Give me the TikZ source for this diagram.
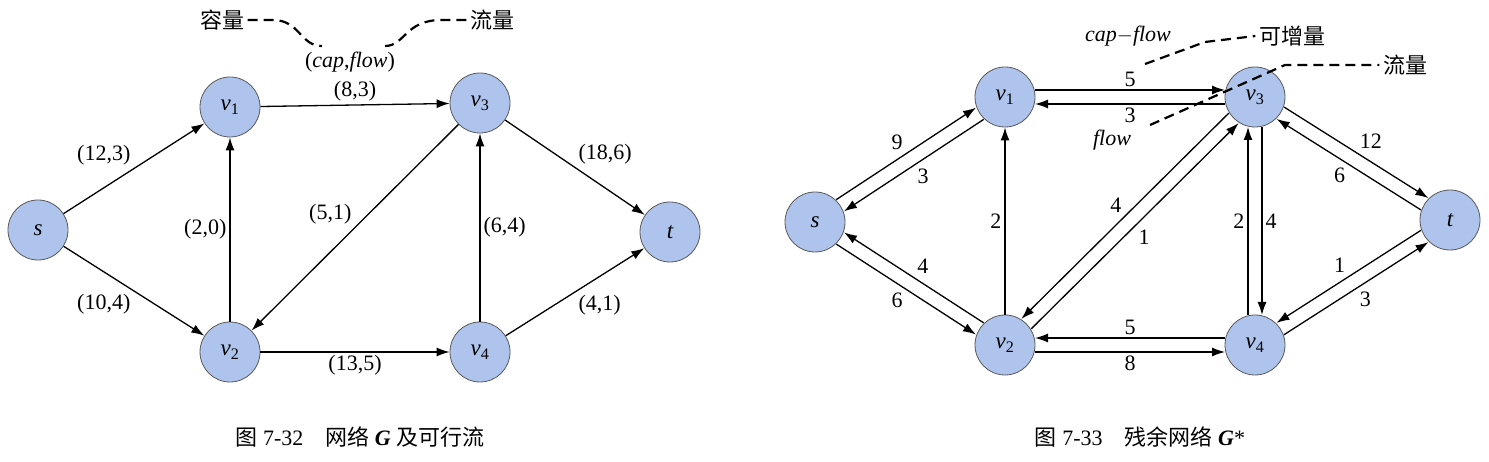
\documentclass[tikz,border=0pt]{standalone}
\usepackage{fontspec}
\setmainfont{Liberation Serif}
\newfontfamily\cjk{Noto Sans CJK SC}
\usetikzlibrary{calc,arrows.meta}

\definecolor{vfill}{RGB}{174,196,236}
\tikzset{every picture/.style={line width=1.3pt}}
\tikzset{
  vtx/.style={circle,draw=gray!70!black,line width=0.8pt,fill=vfill,minimum size=60pt,inner sep=0pt,font=\fontsize{23}{26}\selectfont\itshape},
  arr/.style={-{Latex[length=13pt,width=9pt]}},
  lab/.style={font=\fontsize{22}{26}\selectfont,inner sep=3pt},
  note/.style={dash pattern=on 10pt off 6pt,line width=2.2pt},
}
% residual edge: from, to, side offset, label options, label
\newcommand\redge[5]{%
  \draw[arr] ($(#1)!30pt!(#2)!#3!90:(#2)$) -- node[lab,#4] {#5} ($(#2)!30pt!(#1)!#3!-90:(#1)$);}

\begin{document}
\begin{tikzpicture}[x=1pt,y=1pt,yscale=-1,xscale=1]
\useasboundingbox (0,0) rectangle (1489,462);

% network G
\draw (38,230) node [vtx] (s) {s};
\draw (230,107) node [vtx] (v1) {v\textsubscript{\upshape 1}};
\draw (480,103) node [vtx] (v3) {v\textsubscript{\upshape 3}};
\draw (670,232) node [vtx] (t) {t};
\draw (230,352) node [vtx] (v2) {v\textsubscript{\upshape 2}};
\draw (480,352) node [vtx] (v4) {v\textsubscript{\upshape 4}};

\draw [arr] (s) -- node [lab,above left] {(12,3)} (v1);
\draw [arr] (s) -- node [lab,below left] {(10,4)} (v2);
\draw [arr] (v2) -- node [lab,left] {(2,0)} (v1);
\draw [arr] (v1) -- node [lab,above] {(8,3)} (v3);
\draw [arr] (v3) -- node [lab,above left] {(5,1)} (v2);
\draw [arr] (v4) -- node [lab,right] {(6,4)} (v3);
\draw [arr] (v3) -- node [lab,above right] {(18,6)} (t);
\draw [arr] (v2) -- node [lab,below] {(13,5)} (v4);
\draw [arr] (v4) -- node [lab,below right] {(4,1)} (t);

\draw (350,62) node [lab] (cf) {(\textit{cap},\textit{flow})};
\draw (222,20) node [lab] (cap) {\cjk 容量};
\draw (492,20) node [lab] (flw) {\cjk 流量};
\draw [note] (cap.east) -- ++(25,0) .. controls (300,20) and (300,46) .. (322,46);
\draw [note] (flw.west) -- ++(-25,0) .. controls (405,20) and (405,46) .. (385,46);

% residual network G*
\draw (815,222) node [vtx] (rs) {s};
\draw (1005,97) node [vtx] (r1) {v\textsubscript{\upshape 1}};
\draw (1255,97) node [vtx] (r3) {v\textsubscript{\upshape 3}};
\draw (1450,220) node [vtx] (rt) {t};
\draw (1005,345) node [vtx] (r2) {v\textsubscript{\upshape 2}};
\draw (1255,345) node [vtx] (r4) {v\textsubscript{\upshape 4}};

\redge{r1}{r3}{-7pt}{above}{5}
\redge{r3}{r1}{-7pt}{below}{3}
\redge{rs}{r1}{-7pt}{above left}{9}
\redge{r1}{rs}{-7pt}{below right}{3}
\draw [arr] (r2) -- node [lab,left] {2} (r1);
\redge{r3}{r2}{7pt}{above left}{4}
\redge{r2}{r3}{7pt}{below right}{1}
\redge{r4}{r3}{-7pt}{left}{2}
\redge{r3}{r4}{-7pt}{right}{4}
\redge{r3}{rt}{-7pt}{above right}{12}
\redge{rt}{r3}{-7pt}{below left}{6}
\redge{r2}{rs}{7pt}{above right}{4}
\redge{rs}{r2}{7pt}{below left}{6}
\redge{r4}{r2}{7pt}{above}{5}
\redge{r2}{r4}{7pt}{below}{8}
\redge{rt}{r4}{7pt}{above left}{1}
\redge{r4}{rt}{7pt}{below right}{3}

\draw (1128,36) node [lab] (cmf) {\textit{cap}$-$\textit{flow}};
\draw (1292,36) node [lab] (inc) {\cjk 可增量};
\draw (1405,65) node [lab] (rfl) {\cjk 流量};
\draw (1112,140) node [lab] (fl) {\textit{flow}};
\draw [note] (1145,64) -- (1205,42) -- (inc.west);
\draw [note] (1150,125) -- (1285,65) -- (rfl.west);

% captions
\draw (360,437) node [lab] (cap1) {{\cjk 图} 7-32\quad{\cjk 网络} \textbf{\textit{G}} {\cjk 及可行流}};
\draw (1140,437) node [lab] (cap2) {{\cjk 图} 7-33\quad{\cjk 残余网络} \textbf{\textit{G}}*};

\end{tikzpicture}
\end{document}
